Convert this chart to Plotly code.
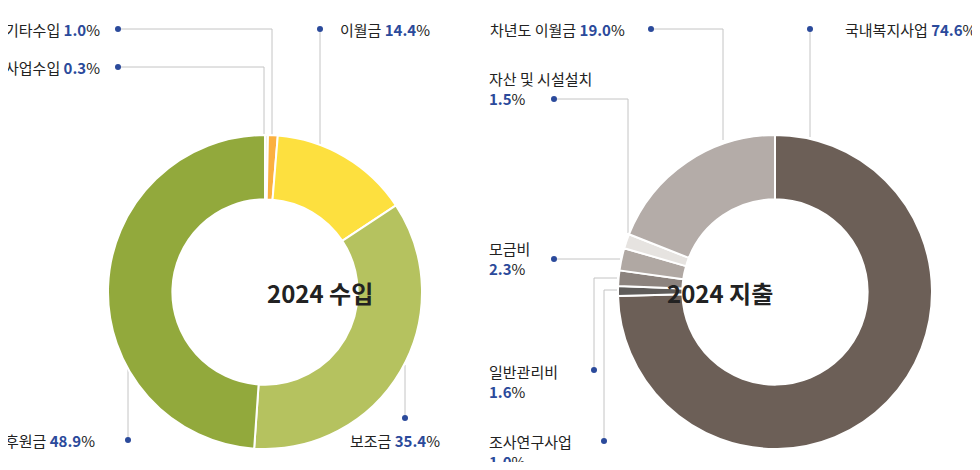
import plotly.graph_objects as go

# 2024 income
in_labels = ['사업수입', '기타수입', '이월금', '보조금', '후원금']
in_values = [0.3, 1.0, 14.4, 35.4, 48.9]
in_colors = ['#eceedd', '#fbb040', '#fde03f', '#b5c25f', '#92a93c']

# 2024 spending
out_labels = ['국내복지사업', '조사연구사업', '일반관리비', '모금비', '자산 및 시설설치', '차년도 이월금']
out_values = [74.6, 1.0, 1.6, 2.3, 1.5, 19.0]
out_colors = ['#6c5f57', '#5f5c5a', '#8c837e', '#b0a8a3', '#e6e3e0', '#b4aca8']

OFF = 8  # page body margin
W, H = 980 - 2 * OFF, 470 - 2 * OFF
BLUE = '#2b4a9b'
FONT = 'Noto Sans CJK KR'


def px(x, y):
    return (x - OFF) / W, 1 - (y - OFF) / H


fig = go.Figure()
for labels, values, colors, x0, x1, title in [
    (in_labels, in_values, in_colors, 108, 422, '2024 수입'),
    (out_labels, out_values, out_colors, 618, 932, '2024 지출'),
]:
    (dx0, dy1), (dx1, dy0) = px(x0, 135), px(x1, 449)
    fig.add_trace(go.Pie(
        labels=labels, values=values, hole=0.59, sort=False, direction='clockwise',
        rotation=0, marker=dict(colors=colors, line=dict(color='white', width=2)),
        textinfo='none', showlegend=False,
        domain=dict(x=[dx0, dx1], y=[dy0, dy1]),
    ))
    cx, cy = px((x0 + x1) / 2, 292)
    fig.add_annotation(x=cx, y=cy, xref='paper', yref='paper',
                       text=f'<b>{title}</b>', showarrow=False,
                       font=dict(size=24, color='#222', family=FONT))


def leader(points):
    xs, ys = zip(*[px(*p) for p in points])
    fig.add_trace(go.Scatter(x=list(xs), y=list(ys), mode='lines',
                             line=dict(color='#c4c4c4', width=1), hoverinfo='skip', showlegend=False))
    fig.add_trace(go.Scatter(x=[xs[0]], y=[ys[0]], mode='markers', hoverinfo='skip',
                             marker=dict(color=BLUE, size=6), showlegend=False))


def label(x, y, name, pct, anchor='left', two_lines=False):
    sep = '<br>' if two_lines else ' '
    ax, ay = px(x, y)
    fig.add_annotation(x=ax, y=ay, xref='paper', yref='paper', xanchor=anchor,
                       yanchor='middle', align='left', showarrow=False,
                       text=f'{name}{sep}<b><span style="color:{BLUE}">{pct:.1f}</span></b>%',
                       font=dict(size=15, color='#222', family=FONT))


# left labels
leader([(118, 29), (272, 29), (272, 136)])
label(3, 29, '기타수입', in_values[1])
leader([(118, 67), (264, 67), (264, 136)])
label(3, 67, '사업수입', in_values[0])
leader([(320, 29), (320, 145)])
label(338, 29, '이월금', in_values[2])
leader([(405, 418), (405, 365)])
label(348, 440, '보조금', in_values[3])
leader([(128, 440), (128, 365)])
label(3, 440, '후원금', in_values[4])

# right labels
leader([(651, 29), (723, 29), (723, 140)])
label(488, 29, '차년도 이월금', out_values[5])
leader([(810, 29), (810, 137)])
label(843, 29, '국내복지사업', out_values[0])
leader([(554, 99), (628, 99), (628, 233)])
label(487, 88, '자산 및 시설설치', out_values[4], two_lines=True)
leader([(554, 259), (620, 259)])
label(487, 259, '모금비', out_values[3], two_lines=True)
leader([(594, 370), (594, 278), (617, 278)])
label(487, 381, '일반관리비', out_values[2], two_lines=True)
leader([(604, 441), (604, 290), (618, 290)])
label(487, 451, '조사연구사업', out_values[1], two_lines=True)

fig.update_layout(
    width=W, height=H, margin=dict(l=0, r=0, t=0, b=0),
    paper_bgcolor='white', plot_bgcolor='rgba(0,0,0,0)',
    xaxis=dict(range=[0, 1], visible=False, domain=[0, 1], fixedrange=True),
    yaxis=dict(range=[0, 1], visible=False, domain=[0, 1], fixedrange=True),
    font=dict(family=FONT),
)
fig.write_html('out.html')
